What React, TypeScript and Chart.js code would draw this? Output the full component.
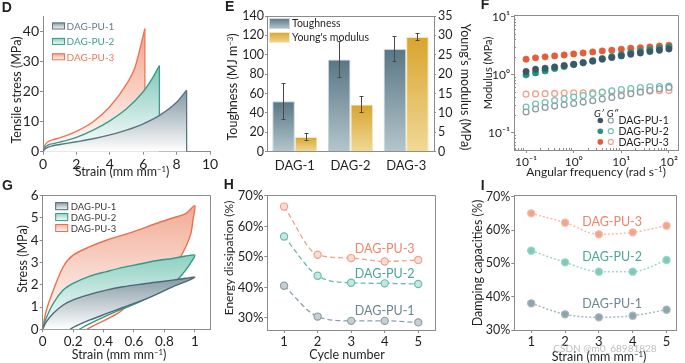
import React, { useEffect, useRef } from 'react';
import { Chart, registerables } from 'chart.js';

Chart.register(...registerables);

const FONT = "Lato, 'Open Sans', 'Liberation Sans', sans-serif";
const AXIS = '#8b8b8b';
const INK = '#231f20';

// ---------------- Panel D : tensile curves ----------------
const D_NAMES = ['DAG-PU-1', 'DAG-PU-2', 'DAG-PU-3'];
const D_PU1_X = [0, 0.1, 0.3, 0.6, 1, 2, 3, 4, 5, 6, 7, 8, 8.6];
const D_PU1_Y = [0, 0.8, 1.5, 2.0, 2.4, 3.3, 4.3, 5.6, 7.2, 9.3, 12.2, 16.5, 20.5];
const D_PU2_X = [0, 0.1, 0.3, 0.6, 1, 2, 3, 4, 5, 6, 6.5, 6.97];
const D_PU2_Y = [0, 1.3, 2.2, 2.7, 3.2, 4.8, 7.2, 10.3, 14.3, 20, 24, 28.7];
const D_PU3_X = [0, 0.1, 0.3, 0.6, 1, 2, 3, 4, 5, 5.5, 6.1];
const D_PU3_Y = [0, 2.0, 3.3, 4.0, 4.6, 6.8, 10, 15, 22.5, 28, 41];
const D_X_TICKS = [0, 2, 4, 6, 8, 10];
const D_Y_TICKS = [0, 10, 20, 30, 40];

// ---------------- Panel E : bars ----------------
const E_CATEGORIES = ['DAG-1', 'DAG-2', 'DAG-3'];
const E_TOUGHNESS = [52, 95, 106];
const E_TOUGHNESS_ERR = [18.5, 18.5, 13];
const E_MODULUS = [3.8, 12.2, 29.6];
const E_MODULUS_ERR = [1.0, 2.0, 0.9];
const E_Y_TICKS = [0, 20, 40, 60, 80, 100, 120, 140];
const E_Y2_TICKS = [0, 5, 10, 15, 20, 25, 30, 35];

// ---------------- Panel F : rheology ----------------
const F_FREQ = [0.1, 0.158, 0.251, 0.398, 0.631, 1, 1.58, 2.51, 3.98, 6.31, 10, 15.8, 25.1, 39.8, 63.1, 100];
const F_PU1_STORAGE = [1.14, 1.25, 1.3, 1.37, 1.45, 1.52, 1.61, 1.72, 1.86, 1.98, 2.12, 2.26, 2.38, 2.51, 2.65, 2.79];
const F_PU2_STORAGE = [1.0, 1.08, 1.17, 1.28, 1.39, 1.5, 1.63, 1.76, 1.91, 2.06, 2.23, 2.42, 2.58, 2.72, 2.87, 3.02];
const F_PU3_STORAGE = [1.86, 1.96, 2.04, 2.12, 2.2, 2.29, 2.38, 2.48, 2.58, 2.65, 2.76, 2.87, 2.94, 3.02, 3.14, 3.23];
const F_PU1_LOSS = [0.229, 0.258, 0.275, 0.29, 0.306, 0.322, 0.34, 0.358, 0.383, 0.409, 0.436, 0.472, 0.504, 0.539, 0.575, 0.607];
const F_PU2_LOSS = [0.279, 0.314, 0.335, 0.363, 0.388, 0.414, 0.442, 0.472, 0.504, 0.532, 0.56, 0.583, 0.606, 0.623, 0.631, 0.639];
const F_PU3_LOSS = [0.466, 0.47, 0.475, 0.48, 0.485, 0.49, 0.49, 0.495, 0.5, 0.505, 0.51, 0.515, 0.52, 0.525, 0.535, 0.54];
const F_X_TICKS = [0.1, 1, 10, 100];
const F_Y_TICKS = [0.1, 1, 10];

// ---------------- Panel G : cyclic loops (loading then unloading) ----------------
const G_PU1_X = [0, 0.02, 0.07, 0.135, 0.2, 0.31, 0.418, 0.527, 0.636, 0.745, 0.854, 0.94, 1, 0.94, 0.854, 0.745, 0.636, 0.527, 0.418, 0.31, 0.22, 0.18];
const G_PU1_Y = [0, 0.3, 0.72, 1.09, 1.32, 1.57, 1.76, 1.91, 2.02, 2.11, 2.21, 2.29, 2.34, 2.14, 1.91, 1.56, 1.25, 0.98, 0.7, 0.42, 0.15, 0];
const G_PU2_X = [0, 0.02, 0.07, 0.135, 0.2, 0.31, 0.418, 0.527, 0.636, 0.745, 0.854, 0.94, 1, 0.97, 0.94, 0.9, 0.85, 0.8, 0.7, 0.6, 0.5, 0.4, 0.3, 0.24];
const G_PU2_Y = [0, 0.45, 1.17, 1.76, 2.06, 2.39, 2.59, 2.78, 2.93, 3.08, 3.18, 3.29, 3.33, 2.95, 2.66, 2.33, 2.0, 1.78, 1.43, 1.12, 0.85, 0.55, 0.22, 0];
const G_PU3_X = [0, 0.02, 0.07, 0.135, 0.2, 0.31, 0.418, 0.527, 0.636, 0.745, 0.854, 0.94, 1, 0.99, 0.974, 0.94, 0.9, 0.85, 0.8, 0.7, 0.6, 0.5, 0.4, 0.33, 0.29];
const G_PU3_Y = [0, 0.75, 1.76, 2.81, 3.33, 3.71, 4.0, 4.23, 4.48, 4.75, 5.0, 5.2, 5.55, 5.0, 4.3, 3.7, 3.18, 2.7, 2.35, 1.8, 1.3, 0.75, 0.38, 0.14, 0];
const G_X_TICKS = [0, 0.2, 0.4, 0.6, 0.8, 1];
const G_Y_TICKS = [0, 1, 2, 3, 4, 5, 6];

// ---------------- Panel H : energy dissipation ----------------
const H_CYCLES = [1, 2, 3, 4, 5];
const H_PU1 = [40.5, 30.4, 29.0, 29.0, 28.5];
const H_PU2 = [56.7, 43.8, 41.5, 41.3, 41.1];
const H_PU3 = [66.5, 50.7, 49.6, 48.5, 49.0];
const H_Y_TICKS = [30, 40, 50, 60, 70];

// ---------------- Panel I : damping ----------------
const I_STRAINS = [1, 2, 3, 4, 5];
const I_PU1 = [38.0, 34.7, 33.8, 34.3, 36.1];
const I_PU2 = [53.8, 50.3, 47.5, 47.5, 51.0];
const I_PU3 = [65.0, 62.2, 58.7, 59.3, 61.3];
const I_Y_TICKS = [30, 40, 50, 60, 70];

// ---------------- layout ----------------
type Box = { x: number; y: number; w: number; h: number };
type Area = { l: number; t: number; r: number; b: number };

const BOX_D: Box = { x: 0, y: 0, w: 225, h: 175 };
const BOX_E: Box = { x: 225, y: 0, w: 232, h: 175 };
const BOX_F: Box = { x: 462, y: 0, w: 223, h: 175 };
const BOX_G: Box = { x: 0, y: 175, w: 225, h: 188 };
const BOX_H: Box = { x: 225, y: 175, w: 232, h: 188 };
const BOX_I: Box = { x: 462, y: 175, w: 223, h: 188 };

const AREA_D: Area = { l: 43, t: 16.7, r: 210, b: 151.7 };
const AREA_E: Area = { l: 267, t: 16, r: 434, b: 151.7 };
const AREA_F: Area = { l: 514, t: 15, r: 678, b: 150 };
const AREA_G: Area = { l: 42.7, t: 195.7, r: 210, b: 329.3 };
const AREA_H: Area = { l: 267.3, t: 195, r: 435, b: 330 };
const AREA_I: Area = { l: 514.3, t: 195, r: 676.7, b: 330 };

const align = (p: number) => Math.round(p - 0.5) + 0.5;

function axis(o: any) {
  const ax: any = {
    type: o.type || 'linear',
    border: { display: o.border !== false, color: AXIS, width: 1 },
    grid: {
      display: o.marks !== false,
      drawOnChartArea: false,
      drawTicks: true,
      tickLength: o.tickLen ?? 3,
      color: AXIS,
      tickColor: AXIS,
    },
    ticks: {
      font: { family: FONT, size: o.size },
      color: INK,
      padding: o.pad ?? 1,
      autoSkip: false,
      maxRotation: 0,
      minRotation: 0,
    },
    afterFit: o.fit,
  };
  if (o.position) ax.position = o.position;
  if (o.min !== undefined) ax.min = o.min;
  if (o.max !== undefined) ax.max = o.max;
  if (o.fmt) ax.ticks.callback = (v: any) => o.fmt(Number(v));
  if (o.ticks) ax.afterBuildTicks = (s: any) => { s.ticks = o.ticks.map((v: number) => ({ value: v })); };
  return ax;
}

const yFit = (w: number) => (s: any) => { s.width = w; };
const xFit = (h: number) => (s: any) => { s.height = h; };

function base(box: Box, area: Area, rightAxis = false) {
  return {
    responsive: false,
    animation: false,
    events: [],
    layout: {
      padding: { left: 0, top: area.t - box.y, right: rightAxis ? 0 : box.x + box.w - area.r, bottom: 0 },
    },
  };
}

const noPlugins = { legend: { display: false }, tooltip: { enabled: false } };

const vGrad = (top: string, bottom: string, vTop: number, vBottom: number, axisId = 'y') => (c: any) => {
  const chart = c.chart;
  if (!chart.chartArea) return top;
  const s = chart.scales[axisId];
  const y0 = s.getPixelForValue(vTop);
  const y1 = s.getPixelForValue(vBottom);
  const g = chart.ctx.createLinearGradient(0, y0, 0, y1);
  g.addColorStop(0, top);
  g.addColorStop(1, bottom);
  return g;
};

const framePlugin = (sides: string) => ({
  id: 'frame',
  afterDraw(chart: any) {
    const { ctx, chartArea: a } = chart;
    const l = align(a.left), r = align(a.right), t = align(a.top), b = align(a.bottom);
    ctx.save();
    ctx.strokeStyle = AXIS;
    ctx.lineWidth = 1;
    ctx.beginPath();
    if (sides.includes('t')) { ctx.moveTo(l, t); ctx.lineTo(r, t); }
    if (sides.includes('r')) { ctx.moveTo(r, t); ctx.lineTo(r, b); }
    ctx.stroke();
    ctx.restore();
  },
});

function swatch(ctx: any, x: number, y: number, w: number, h: number, top: string, bottom: string, stroke: string) {
  const g = ctx.createLinearGradient(0, y, 0, y + h);
  g.addColorStop(0, top);
  g.addColorStop(1, bottom);
  ctx.fillStyle = g;
  ctx.fillRect(x, y, w, h);
  ctx.strokeStyle = stroke;
  ctx.lineWidth = 1;
  ctx.strokeRect(x + 0.5, y + 0.5, w - 1, h - 1);
}

// ---------------- chart builders ----------------
const D_COLORS = [
  { line: '#5b7482', fill: '#8197a3', text: '#657d89' },
  { line: '#3a9c8b', fill: '#7fc8b9', text: '#3f9f8f' },
  { line: '#ec7656', fill: '#f3a087', text: '#ec7b5d' },
];

function makeD(canvas: HTMLCanvasElement) {
  const box = BOX_D, area = AREA_D;
  const series = [
    { xs: D_PU1_X, ys: D_PU1_Y, c: D_COLORS[0] },
    { xs: D_PU2_X, ys: D_PU2_Y, c: D_COLORS[1] },
    { xs: D_PU3_X, ys: D_PU3_Y, c: D_COLORS[2] },
  ];
  const datasets: any[] = [];
  series.forEach((s) => {
    const lx = s.xs[s.xs.length - 1];
    const ly = s.ys[s.ys.length - 1];
    datasets.push({
      data: [{ x: lx, y: ly }, { x: lx, y: 0 }],
      showLine: true, borderColor: s.c.line, borderWidth: 1.3, pointRadius: 0, fill: false,
    });
    datasets.push({
      data: s.xs.map((x, i) => ({ x, y: s.ys[i] })),
      showLine: true, borderColor: s.c.line, borderWidth: 1.4, pointRadius: 0,
      cubicInterpolationMode: 'monotone', fill: 'origin',
      backgroundColor: vGrad(s.c.fill, '#ffffff', Math.max(...s.ys), 0),
    });
  });
  const legend = {
    id: 'legD',
    afterDraw(chart: any) {
      const { ctx, chartArea: a } = chart;
      ctx.save();
      ctx.font = `10px ${FONT}`;
      ctx.textBaseline = 'middle';
      series.forEach((s, i) => {
        const cy = a.top + 9.3 + i * 15.4;
        swatch(ctx, a.left + 9, cy - 3.5, 13, 7, s.c.fill, '#ffffff', s.c.line);
        ctx.fillStyle = s.c.text;
        ctx.fillText(D_NAMES[i], a.left + 23.5, cy + 0.5);
      });
      ctx.restore();
    },
  };
  return new Chart(canvas, {
    type: 'scatter',
    data: { datasets },
    options: {
      ...base(box, area),
      plugins: noPlugins,
      scales: {
        x: axis({ min: 0, max: 10, ticks: D_X_TICKS, size: 14, fmt: (v: number) => `${v}`, fit: xFit(box.y + box.h - area.b) }),
        y: axis({ min: 0, max: 45, ticks: D_Y_TICKS, size: 14, fmt: (v: number) => `${v}`, fit: yFit(area.l - box.x) }),
      },
    } as any,
    plugins: [legend],
  });
}

function makeE(canvas: HTMLCanvasElement) {
  const box = BOX_E, area = AREA_E;
  const barGrad = (top: string, bottom: string, axisId: string) => (c: any) => {
    const chart = c.chart;
    if (!chart.chartArea || c.raw === undefined) return top;
    const s = chart.scales[axisId];
    const g = chart.ctx.createLinearGradient(0, s.getPixelForValue(c.raw), 0, s.getPixelForValue(0));
    g.addColorStop(0, top);
    g.addColorStop(1, bottom);
    return g;
  };
  const TOUGH = { top: '#587684', bottom: '#b3c6cd', border: '#c9d6db' };
  const MOD = { top: '#d8a42e', bottom: '#f1d996', border: '#f6e6b9' };
  const errs = {
    id: 'errs',
    afterDatasetsDraw(chart: any) {
      const ctx = chart.ctx;
      ctx.save();
      ctx.strokeStyle = '#4a4a4a';
      ctx.lineWidth = 1;
      const sets = [
        { vals: E_TOUGHNESS, err: E_TOUGHNESS_ERR, axisId: 'y' },
        { vals: E_MODULUS, err: E_MODULUS_ERR, axisId: 'y2' },
      ];
      sets.forEach((st, i) => {
        const meta = chart.getDatasetMeta(i);
        const s = chart.scales[st.axisId];
        meta.data.forEach((bar: any, j: number) => {
          const x = align(bar.x);
          const y1 = s.getPixelForValue(st.vals[j] + st.err[j]);
          const y2 = s.getPixelForValue(st.vals[j] - st.err[j]);
          ctx.beginPath();
          ctx.moveTo(x, y1); ctx.lineTo(x, y2);
          ctx.moveTo(x - 2, align(y1)); ctx.lineTo(x + 2, align(y1));
          ctx.moveTo(x - 2, align(y2)); ctx.lineTo(x + 2, align(y2));
          ctx.stroke();
        });
      });
      ctx.restore();
    },
  };
  const legend = {
    id: 'legE',
    afterDraw(chart: any) {
      const { ctx, chartArea: a } = chart;
      ctx.save();
      ctx.font = `10.5px ${FONT}`;
      ctx.textBaseline = 'middle';
      swatch(ctx, a.left + 2, a.top + 2, 21, 11, TOUGH.top, TOUGH.bottom, TOUGH.border);
      ctx.fillStyle = INK;
      ctx.fillText('Toughness', a.left + 25, a.top + 8);
      swatch(ctx, a.left + 2, a.top + 16, 21, 11, MOD.top, MOD.bottom, MOD.border);
      ctx.fillStyle = INK;
      ctx.fillText("Young's modulus", a.left + 25, a.top + 21.5);
      ctx.restore();
    },
  };
  return new Chart(canvas, {
    type: 'bar',
    data: {
      labels: E_CATEGORIES,
      datasets: [
        {
          data: E_TOUGHNESS, yAxisID: 'y', borderWidth: 1, borderColor: TOUGH.border,
          backgroundColor: barGrad(TOUGH.top, TOUGH.bottom, 'y'),
          categoryPercentage: 0.81, barPercentage: 1,
        },
        {
          data: E_MODULUS, yAxisID: 'y2', borderWidth: 1, borderColor: MOD.border,
          backgroundColor: barGrad(MOD.top, MOD.bottom, 'y2'),
          categoryPercentage: 0.81, barPercentage: 1,
        },
      ],
    },
    options: {
      ...base(box, area, true),
      plugins: noPlugins,
      scales: {
        x: axis({ type: 'category', marks: false, size: 13, pad: 3, fit: xFit(box.y + box.h - area.b) }),
        y: axis({ min: 0, max: 140, ticks: E_Y_TICKS, size: 12.5, tickLen: 2, fmt: (v: number) => `${v}`, fit: yFit(area.l - box.x) }),
        y2: axis({ position: 'right', min: 0, max: 35, ticks: E_Y2_TICKS, size: 12.5, tickLen: 2, pad: 2, fmt: (v: number) => `${v}`, fit: yFit(box.x + box.w - area.r) }),
      },
    } as any,
    plugins: [errs, framePlugin('t'), legend],
  });
}

const SUP: Record<string, string> = { '-': '\u207B', '0': '\u2070', '1': '\u00B9', '2': '\u00B2', '3': '\u00B3' };
const pow10 = (v: number) => '10' + String(Math.round(Math.log10(v))).split('').map((ch) => SUP[ch] || ch).join('');

function makeF(canvas: HTMLCanvasElement) {
  const box = BOX_F, area = AREA_F;
  const FILLED = ['#3b5866', '#25917f', '#e45d38'];
  const OPEN = ['#8a9ca6', '#6fc3b4', '#f2a189'];
  const storage = [F_PU1_STORAGE, F_PU2_STORAGE, F_PU3_STORAGE];
  const loss = [F_PU1_LOSS, F_PU2_LOSS, F_PU3_LOSS];
  const datasets: any[] = [];
  storage.forEach((arr, i) => datasets.push({
    data: F_FREQ.map((f, j) => ({ x: f, y: arr[j] })),
    pointRadius: 3.2, pointBackgroundColor: FILLED[i], pointBorderColor: FILLED[i], pointBorderWidth: 0.5,
  }));
  loss.forEach((arr, i) => datasets.push({
    data: F_FREQ.map((f, j) => ({ x: f, y: arr[j] })),
    pointRadius: 2.9, pointBackgroundColor: 'rgba(255,255,255,0.9)', pointBorderColor: OPEN[i], pointBorderWidth: 1.3,
  }));
  const minor = {
    id: 'minor',
    afterDraw(chart: any) {
      const { ctx, chartArea: a, scales } = chart;
      ctx.save();
      ctx.strokeStyle = AXIS;
      ctx.lineWidth = 1;
      ctx.beginPath();
      for (let e = -2; e <= 2; e++) {
        for (let k = 2; k <= 9; k++) {
          const v = k * Math.pow(10, e);
          if (v > scales.x.min && v < scales.x.max) {
            const px = align(scales.x.getPixelForValue(v));
            ctx.moveTo(px, a.bottom); ctx.lineTo(px, a.bottom - 2);
          }
          if (v > scales.y.min && v < scales.y.max) {
            const py = align(scales.y.getPixelForValue(v));
            ctx.moveTo(a.left, py); ctx.lineTo(a.left + 2, py);
          }
        }
      }
      ctx.stroke();
      ctx.restore();
    },
  };
  const legend = {
    id: 'legF',
    afterDraw(chart: any) {
      const ctx = chart.ctx;
      const ox = box.x, oy = box.y;
      ctx.save();
      ctx.textBaseline = 'middle';
      ctx.textAlign = 'center';
      ctx.fillStyle = INK;
      ctx.font = `italic 10px ${FONT}`;
      ctx.fillText('G\u2032', 599 - ox, 113.5 - oy);
      ctx.fillText('G\u2033', 612.5 - ox, 113.5 - oy);
      ctx.textAlign = 'left';
      ctx.font = `10.5px ${FONT}`;
      ['DAG-PU-1', 'DAG-PU-2', 'DAG-PU-3'].forEach((name, i) => {
        const cy = 120.5 + i * 10.7 - oy;
        ctx.beginPath();
        ctx.arc(600.3 - ox, cy, 2.8, 0, Math.PI * 2);
        ctx.fillStyle = FILLED[i];
        ctx.fill();
        ctx.beginPath();
        ctx.arc(610.8 - ox, cy, 2.5, 0, Math.PI * 2);
        ctx.strokeStyle = OPEN[i];
        ctx.lineWidth = 1.2;
        ctx.stroke();
        ctx.fillStyle = INK;
        ctx.fillText(name, 618.5 - ox, cy + 0.5);
      });
      ctx.restore();
    },
  };
  return new Chart(canvas, {
    type: 'scatter',
    data: { datasets },
    options: {
      ...base(box, area),
      plugins: noPlugins,
      scales: {
        x: axis({ type: 'logarithmic', min: 0.0558, max: 155, ticks: F_X_TICKS, size: 12, pad: 2, fmt: pow10, fit: xFit(box.y + box.h - area.b) }),
        y: axis({ type: 'logarithmic', min: 0.051, max: 10.7, ticks: F_Y_TICKS, size: 12, pad: 1, fmt: pow10, fit: yFit(area.l - box.x) }),
      },
    } as any,
    plugins: [minor, framePlugin('tr'), legend],
  });
}

function makeG(canvas: HTMLCanvasElement) {
  const box = BOX_G, area = AREA_G;
  const series = [
    { xs: G_PU1_X, ys: G_PU1_Y, line: '#4d6977', fill: '#8599a4', name: 'DAG-PU-1' },
    { xs: G_PU2_X, ys: G_PU2_Y, line: '#339888', fill: '#8ed0c2', name: 'DAG-PU-2' },
    { xs: G_PU3_X, ys: G_PU3_Y, line: '#ea7050', fill: '#f2ab95', name: 'DAG-PU-3' },
  ];
  const datasets = series.map((s) => ({
    data: s.xs.map((x, i) => ({ x, y: s.ys[i] })),
    showLine: true, borderColor: s.line, borderWidth: 1.4, pointRadius: 0, tension: 0.3,
    fill: 'shape',
    backgroundColor: vGrad(s.fill, '#ffffff', Math.max(...s.ys), 0),
  }));
  const legend = {
    id: 'legG',
    afterDraw(chart: any) {
      const { ctx, chartArea: a } = chart;
      ctx.save();
      ctx.font = `9.5px ${FONT}`;
      ctx.textBaseline = 'middle';
      series.forEach((s, i) => {
        const cy = a.top + 10.5 + i * 10.9;
        swatch(ctx, a.left + 12.5, cy - 4, 13, 8, s.fill, '#ffffff', s.line);
        ctx.fillStyle = '#3a3a3a';
        ctx.fillText(s.name, a.left + 28, cy + 0.5);
      });
      ctx.restore();
    },
  };
  return new Chart(canvas, {
    type: 'scatter',
    data: { datasets },
    options: {
      ...base(box, area),
      plugins: noPlugins,
      scales: {
        x: axis({ min: 0, max: 1.1, ticks: G_X_TICKS, size: 13.5, fmt: (v: number) => `${v}`, fit: xFit(box.y + box.h - area.b) }),
        y: axis({ min: 0, max: 6, ticks: G_Y_TICKS, size: 13.5, fmt: (v: number) => `${v}`, fit: yFit(area.l - box.x) }),
      },
    } as any,
    plugins: [framePlugin('tr'), legend],
  });
}

function makeCycle(
  canvas: HTMLCanvasElement, box: Box, area: Area, xs: number[], sets: number[][],
  style: { ring: string[]; fill: string[]; text: string[]; dash: number[]; lw: number },
  yRange: [number, number], xRange: [number, number], yTicks: number[],
  labels: { x: number; y: number }[], tickSize: number,
) {
  const names = ['DAG-PU-1', 'DAG-PU-2', 'DAG-PU-3'];
  const datasets = sets.map((vals, i) => ({
    data: xs.map((x, j) => ({ x, y: vals[j] })),
    showLine: true, borderColor: style.ring[i], borderWidth: style.lw, borderDash: style.dash,
    cubicInterpolationMode: 'monotone',
    pointRadius: 3.6, pointBackgroundColor: style.fill[i], pointBorderColor: style.ring[i], pointBorderWidth: 1.2,
  }));
  const ann = {
    id: 'ann',
    afterDatasetsDraw(chart: any) {
      const { ctx, scales } = chart;
      ctx.save();
      ctx.font = `12.5px ${FONT}`;
      ctx.textAlign = 'center';
      ctx.textBaseline = 'middle';
      labels.forEach((p, i) => {
        ctx.fillStyle = style.text[i];
        ctx.fillText(names[i], scales.x.getPixelForValue(p.x), scales.y.getPixelForValue(p.y));
      });
      ctx.restore();
    },
  };
  return new Chart(canvas, {
    type: 'scatter',
    data: { datasets },
    options: {
      ...base(box, area),
      plugins: noPlugins,
      scales: {
        x: axis({ min: xRange[0], max: xRange[1], ticks: xs, size: 13, fmt: (v: number) => `${v}`, fit: xFit(box.y + box.h - area.b) }),
        y: axis({ min: yRange[0], max: yRange[1], ticks: yTicks, size: tickSize, fmt: (v: number) => `${v}%`, fit: yFit(area.l - box.x) }),
      },
    } as any,
    plugins: [framePlugin('tr'), ann],
  });
}

function makeH(canvas: HTMLCanvasElement) {
  return makeCycle(
    canvas, BOX_H, AREA_H, H_CYCLES, [H_PU1, H_PU2, H_PU3],
    {
      ring: ['#8c9fa9', '#6abcae', '#f0a18b'],
      fill: ['#c5d0d5', '#c6e7e0', '#fbdcd2'],
      text: ['#6b8591', '#4aa797', '#ee8669'],
      dash: [5, 3], lw: 1.3,
    },
    [26, 70.3], [0.5, 5.5], H_Y_TICKS,
    [{ x: 4.0, y: 32.2 }, { x: 4.0, y: 44.5 }, { x: 4.0, y: 52.7 }], 13,
  );
}

function makeI(canvas: HTMLCanvasElement) {
  return makeCycle(
    canvas, BOX_I, AREA_I, I_STRAINS, [I_PU1, I_PU2, I_PU3],
    {
      ring: ['#a8b8c0', '#9dd6cb', '#f6bcab'],
      fill: ['#8ea5b0', '#7ecbbd', '#f3a48e'],
      text: ['#6c8794', '#4ba898', '#ee8468'],
      dash: [2, 2], lw: 1.5,
    },
    [30, 70.5], [0.5, 5.3], I_Y_TICKS,
    [{ x: 3.39, y: 37.7 }, { x: 3.39, y: 52.0 }, { x: 3.39, y: 62.5 }], 12.5,
  );
}

// ---------------- React ----------------
function Panel({ box, make }: { box: Box; make: (c: HTMLCanvasElement) => Chart }) {
  const ref = useRef<HTMLCanvasElement>(null);
  useEffect(() => {
    const chart = make(ref.current as HTMLCanvasElement);
    return () => chart.destroy();
  }, []);
  return (
    <canvas
      ref={ref}
      width={box.w}
      height={box.h}
      style={{ position: 'absolute', left: box.x, top: box.y, width: box.w, height: box.h }}
    />
  );
}

function T({ x, y, size, rot = 0, color = INK, children, bold = false, family = FONT }: any) {
  return (
    <div
      style={{
        position: 'absolute', left: x, top: y,
        transform: `translate(-50%, -50%) rotate(${rot}deg)`,
        fontSize: size, fontFamily: family, color, whiteSpace: 'nowrap', lineHeight: 1,
        fontWeight: bold ? 700 : 400,
      }}
    >
      {children}
    </div>
  );
}

const Sup = ({ children }: any) => (
  <sup style={{ fontSize: '0.62em', verticalAlign: '0.5em', lineHeight: 0 }}>{children}</sup>
);

const LETTER = "'Liberation Sans', Arial, sans-serif";

export default function App() {
  return (
    <div style={{ position: 'fixed', left: 0, top: 0, width: 685, height: 363, background: '#ffffff', overflow: 'hidden' }}>
      <Panel box={BOX_D} make={makeD} />
      <Panel box={BOX_E} make={makeE} />
      <Panel box={BOX_F} make={makeF} />
      <Panel box={BOX_G} make={makeG} />
      <Panel box={BOX_H} make={makeH} />
      <Panel box={BOX_I} make={makeI} />

      <T x={6.7} y={6.7} size={14} bold family={LETTER}>D</T>
      <T x={229.7} y={6.2} size={14} bold family={LETTER}>E</T>
      <T x={485} y={4} size={14} bold family={LETTER}>F</T>
      <T x={7.5} y={185} size={14} bold family={LETTER}>G</T>
      <T x={228.7} y={184.2} size={14} bold family={LETTER}>H</T>
      <T x={482.7} y={184.5} size={14} bold family={LETTER}>I</T>

      <T x={16.5} y={90} size={12.5} rot={-90}>Tensile stress (MPa)</T>
      <T x={122} y={171.5} size={12.5}>Strain (mm mm<Sup>−1</Sup>)</T>

      <T x={233} y={87} size={12.5} rot={-90}>Toughness (MJ m<Sup>−3</Sup>)</T>
      <T x={465} y={87} size={12.5} rot={90}>Young's modulus (MPa)</T>

      <T x={486.5} y={72.5} size={11} rot={-90}>Modulus (MPa)</T>
      <T x={596} y={172} size={12}>Angular frequency (rad s<Sup>−1</Sup>)</T>

      <T x={22.5} y={259} size={12.5} rot={-90}>Stress (MPa)</T>
      <T x={119} y={355} size={12.5}>Strain (mm mm<Sup>−1</Sup>)</T>

      <T x={229} y={258} size={12} rot={-90}>Energy dissipation (%)</T>
      <T x={347} y={355} size={12.5}>Cycle number</T>

      <T x={478} y={263} size={12.5} rot={-90}>Damping capacities (%)</T>
      <T x={599} y={357} size={12.5}>Strain (mm mm<Sup>−1</Sup>)</T>

      <T x={605} y={347.5} size={10} color="rgba(170,170,170,0.75)">CSDN @m0_68981828</T>
    </div>
  );
}
